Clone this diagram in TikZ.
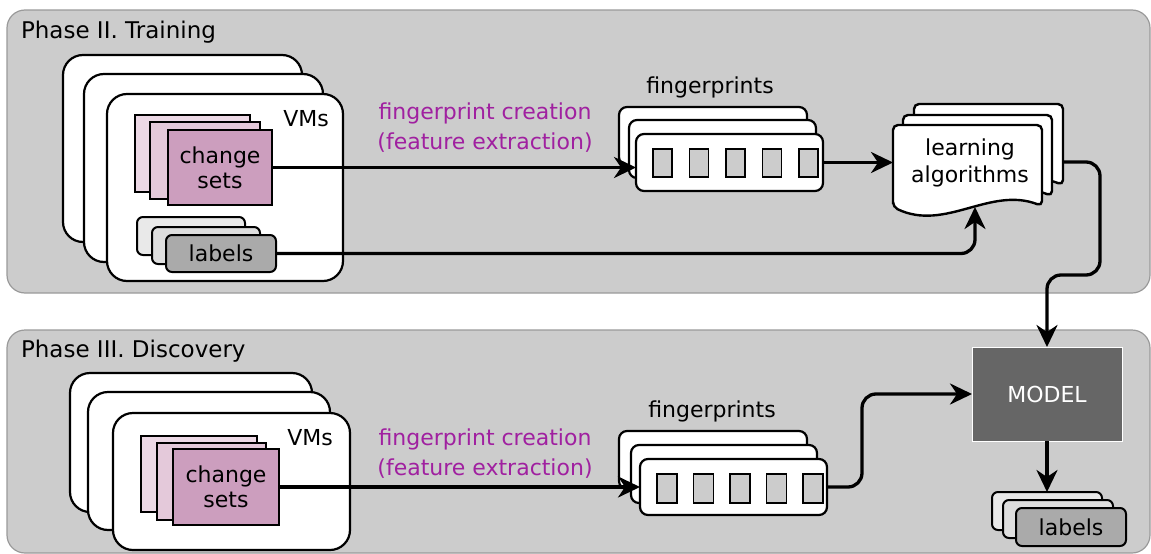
\documentclass[tikz,border=0pt]{standalone}
\usepackage{fontspec}
\setmainfont{DejaVu Sans}
\usetikzlibrary{arrows.meta,calc}

\definecolor{panelfill}{HTML}{CCCCCC}
\definecolor{panelline}{HTML}{9A9A9A}
\definecolor{csfront}{HTML}{CC9EBE}
\definecolor{csmid}{HTML}{E4C9DA}
\definecolor{csback}{HTML}{ECD8E5}
\definecolor{lblfront}{HTML}{AAAAAA}
\definecolor{lblmid}{HTML}{DEDEDE}
\definecolor{lblback}{HTML}{E9E9E9}
\definecolor{modelfill}{HTML}{666666}
\definecolor{stepcol}{HTML}{A020A0}

\begin{document}
\begin{tikzpicture}[x=1pt,y=-1pt,
  font=\fontsize{22}{27}\selectfont,
  every node/.style={inner sep=0pt,outer sep=0pt},
  nw/.style 2 args={anchor=north west,minimum width=#1pt,minimum height=#2pt},
  panel/.style={draw=panelline,line width=1.2pt,fill=panelfill,rounded corners=18pt},
  vmcard/.style={draw=black,line width=2.2pt,fill=white,rounded corners=20pt},
  csbox/.style={draw=black,line width=2pt},
  lblbox/.style={draw=black,line width=2pt,rounded corners=6pt},
  fpcard/.style={draw=black,line width=2.2pt,fill=white,rounded corners=8pt},
  slot/.style={draw=black,line width=1.8pt,fill=panelfill,anchor=north west,minimum width=19pt,minimum height=28pt},
  docpage/.style={draw=black,line width=2.4pt,fill=white,rounded corners=5pt},
  flow/.style={draw=black,line width=3.3pt,rounded corners=14pt,-{Stealth[length=22pt,width=21pt,inset=7pt]}},
  stepnote/.style={text=stepcol,align=center,font=\fontsize{22}{30}\selectfont},
]
\useasboundingbox (0,0) rectangle (1151,554);

% ---------- phase panels ----------
\node[panel,nw={1143}{283}] (train) at (7,10) {};
\node[panel,nw={1143}{223}] (disc) at (7,330) {};
\node[anchor=base west,font=\fontsize{23}{27}\selectfont] (trainlbl) at (21,38) {Phase II. Training};
\node[anchor=base west,font=\fontsize{23}{27}\selectfont] (disclbl) at (21,357) {Phase III. Discovery};

% ---------- training: VMs ----------
\node[vmcard,nw={239}{187}] (vm1a) at (63,55) {};
\node[vmcard,nw={239}{188}] (vm1b) at (84,74) {};
\node[vmcard,nw={236}{187}] (vm1c) at (107,94) {};
\node[anchor=base] (vm1lbl) at (306,126) {VMs};

\node[csbox,fill=csback,nw={115}{77}] (cs1a) at (135,115) {};
\node[csbox,fill=csmid,nw={110}{77}] (cs1b) at (150,122) {};
\node[csbox,fill=csfront,nw={104}{75},align=center,font=\fontsize{22}{25}\selectfont] (cs1c) at (168,130) {change\\sets};

\node[lblbox,fill=lblback,nw={108}{38}] (lab1a) at (137,217) {};
\node[lblbox,fill=lblmid,nw={108}{37}] (lab1b) at (152,227) {};
\node[lblbox,fill=lblfront,nw={110}{37}] (lab1c) at (166,235) {labels};

% ---------- training: fingerprints ----------
\node[anchor=base] (fp1lbl) at (710,93) {fingerprints};
\node[fpcard,nw={188}{58}] (fp1a) at (619,107) {};
\node[fpcard,nw={187}{58}] (fp1b) at (629,120) {};
\node[fpcard,nw={187}{57}] (fp1c) at (636,134) {};
\foreach \i in {0,...,4}
  \node[slot] (fp1s\i) at (653+36.5*\i,149) {};

% ---------- training: learning algorithms ----------
\foreach \d in {21,10,0}
  \path[docpage,shift={(\d,-\d)}]
    (893,207) -- (893,125) -- (1042,125) -- (1042,206)
    .. controls (990,186) and (945,232) .. (893,207) -- cycle;
\node[nw={149}{82}] (learnbox) at (893,125) {};
\node[align=center,font=\fontsize{22}{27}\selectfont] (learn) at (970,163) {learning\\algorithms};
\coordinate (learnbot) at (975,207);
\coordinate (learnout) at (1063,162);

% ---------- training: connectors ----------
\node[stepnote] (fc1) at (485,127.5) {fingerprint creation\\(feature extraction)};
\draw[flow] (cs1c.east) -- (cs1c.east -| fp1c.west);
\draw[flow] (fp1c.east) -- (fp1c.east -| learnbox.west);
\draw[flow] (lab1c.east) -| (learnbot);

% ---------- discovery: VMs ----------
\node[vmcard,nw={242}{139}] (vm2a) at (70,373) {};
\node[vmcard,nw={242}{138}] (vm2b) at (88,392) {};
\node[vmcard,nw={237}{137}] (vm2c) at (113,413) {};
\node[anchor=base] (vm2lbl) at (310,445) {VMs};

\node[csbox,fill=csback,nw={116}{76}] (cs2a) at (141,436) {};
\node[csbox,fill=csmid,nw={109}{77}] (cs2b) at (157,443) {};
\node[csbox,fill=csfront,nw={106}{76},align=center,font=\fontsize{22}{25}\selectfont] (cs2c) at (173,449) {change\\sets};

% ---------- discovery: fingerprints ----------
\node[anchor=base] (fp2lbl) at (712,417) {fingerprints};
\node[fpcard,nw={188}{58}] (fp2a) at (619,431) {};
\node[fpcard,nw={186}{58}] (fp2b) at (631,445) {};
\node[fpcard,nw={187}{56}] (fp2c) at (640,459) {};
\foreach \i in {0,...,4}
  \node[slot,minimum width=20pt,minimum height=29pt] (fp2s\i) at (657+36.5*\i,474) {};

% ---------- model and predicted labels ----------
\node[draw=white,line width=1pt,fill=modelfill,text=white,nw={150}{94}] (model) at (972,347) {MODEL};

\node[lblbox,fill=lblback,nw={110}{38}] (lab2a) at (992,492) {};
\node[lblbox,fill=lblmid,nw={110}{38}] (lab2b) at (1003,500) {};
\node[lblbox,fill=lblfront,nw={110}{38}] (lab2c) at (1016,508) {labels};

% ---------- discovery: connectors ----------
\node[stepnote] (fc2) at (485,453.4) {fingerprint creation\\(feature extraction)};
\draw[flow] (cs2c.east) -- (cs2c.east -| fp2c.west);
\draw[flow] (fp2c.east) -- ++(35,0) |- (model.west);
\draw[flow] (model.south) -- (model.south |- lab2a.north);

% ---------- learning output feeds the model ----------
\draw[flow] (learnout) -- ++(37,0) |- ([yshift=72pt]model.north) -- (model.north);
\end{tikzpicture}
\end{document}
